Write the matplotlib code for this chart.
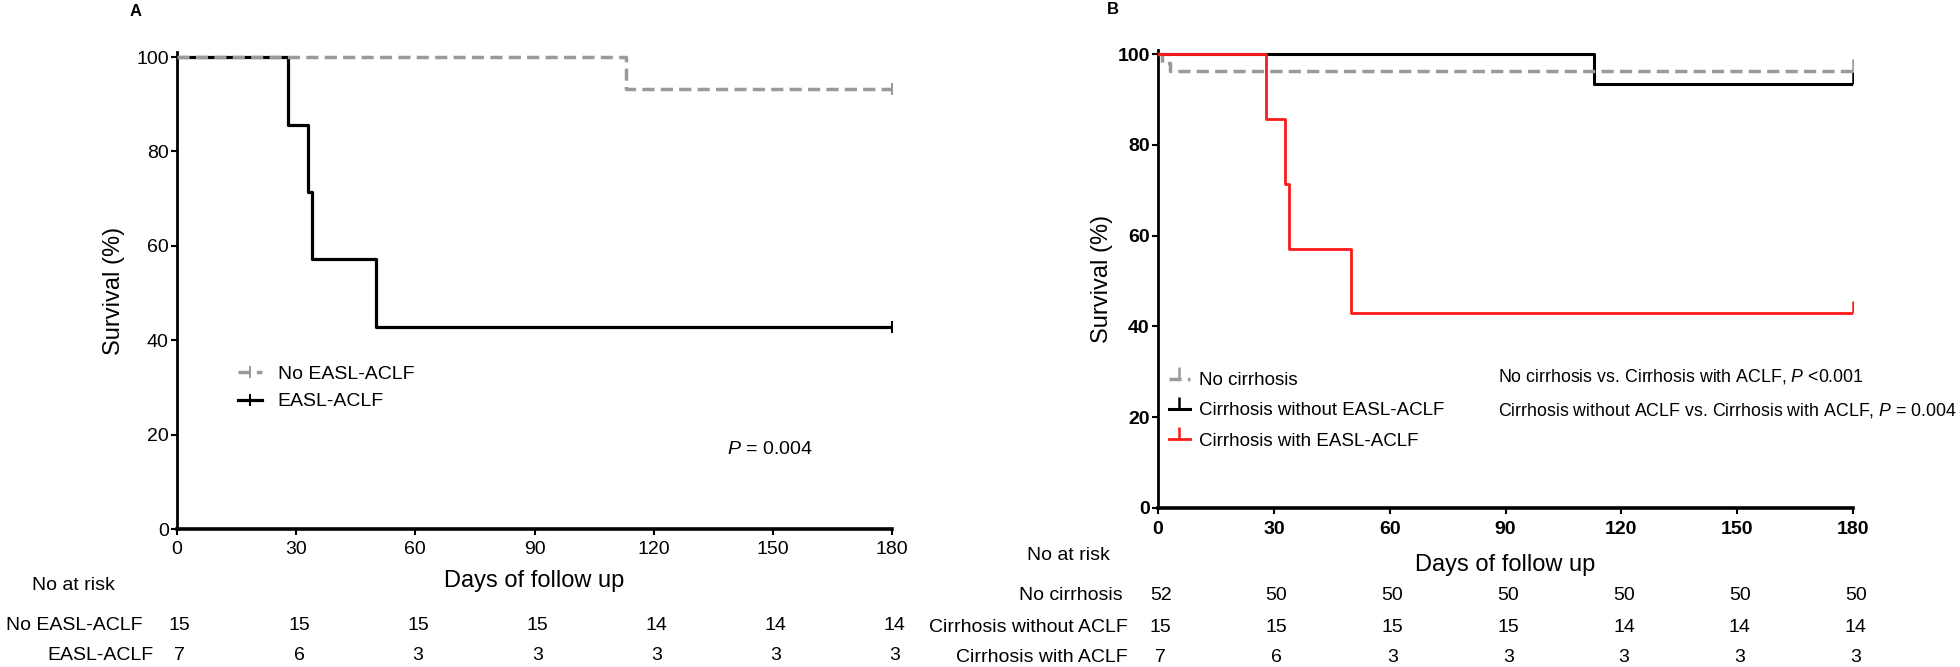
import numpy as np
import matplotlib
matplotlib.use("Agg")
import matplotlib.pyplot as plt
from matplotlib import transforms

plt.rcParams['font.family'] = ['Liberation Sans', 'DejaVu Sans']
plt.rcParams['mathtext.fontset'] = 'custom'
plt.rcParams['mathtext.rm'] = 'Liberation Sans'
plt.rcParams['mathtext.it'] = 'Liberation Sans:italic'

# survival curves (days, % survival)
days_no_aclf = [0, 113, 180]
surv_no_aclf = [100, 93.3, 93.3]
days_aclf = [0, 28, 33, 34, 50, 180]
surv_aclf = [100, 85.7, 71.4, 57.1, 42.9, 42.9]

days_no_cirr = [0, 1, 3, 180]
surv_no_cirr = [100, 98.1, 96.2, 96.2]
days_cirr_wo = [0, 113, 180]
surv_cirr_wo = [100, 93.3, 93.3]
days_cirr_with = [0, 28, 33, 34, 50, 180]
surv_cirr_with = [100, 85.7, 71.4, 57.1, 42.9, 42.9]

risk_days = [0, 30, 60, 90, 120, 150, 180]
risk_a_no = [15, 15, 15, 15, 14, 14, 14]
risk_a_aclf = [7, 6, 3, 3, 3, 3, 3]
risk_b_no_cirr = [52, 50, 50, 50, 50, 50, 50]
risk_b_wo = [15, 15, 15, 15, 14, 14, 14]
risk_b_with = [7, 6, 3, 3, 3, 3, 3]

W, H = 1960, 667
fig = plt.figure(figsize=(W / 100, H / 100), dpi=100)

GRAY = '#9a9a9a'
RED = '#ff1a1a'
FS = 14


def px(x, y):
    return x / W, 1 - y / H


def style_axes(ax, bold=False):
    ax.set_xlim(0, 180)
    ax.set_ylim(0, 101)
    ax.set_xticks(risk_days)
    ax.set_yticks([0, 20, 40, 60, 80, 100])
    for s in ['top', 'right']:
        ax.spines[s].set_visible(False)
    ax.spines['left'].set_linewidth(2)
    ax.spines['bottom'].set_linewidth(2.6)
    ax.tick_params(direction='out', length=4, width=1.5, labelsize=FS, pad=2)
    ax.tick_params(axis='x', pad=5)
    if bold:
        for lab in ax.get_xticklabels() + ax.get_yticklabels():
            lab.set_fontweight('bold')


# ---------------- panel A
axA = fig.add_axes([177 / W, (H - 529) / H, 715 / W, (529 - 52.3) / H])
axA.step(days_aclf, surv_aclf, where='post', color='black', lw=2.3,
         marker='|', markevery=[-1], ms=8, mew=1.5, label='EASL-ACLF', zorder=2)
axA.step(days_no_aclf, surv_no_aclf, where='post', color=GRAY, lw=2.5,
         ls=(0, (3.5, 1.8)), marker='|', markevery=[-1], ms=8, mew=1.5,
         label='No EASL-ACLF', zorder=3)
style_axes(axA)
axA.set_ylabel('Survival (%)', fontsize=17, labelpad=8)
axA.set_xlabel('Days of follow up', fontsize=17, labelpad=8)
h, l = axA.get_legend_handles_labels()
axA.legend(h[::-1], l[::-1], loc='center left', bbox_to_anchor=(0.085, 0.296),
           frameon=False, fontsize=FS, handlelength=1.25, handletextpad=0.8,
           labelspacing=0.5, borderpad=0, borderaxespad=0)
axA.text(*px(727, 450), '$P$ = 0.004', transform=fig.transFigure,
         fontsize=FS, va='center', ha='left')
fig.text(*px(136, 12), 'A', fontsize=12, fontweight='bold', ha='center', va='center')

tA = transforms.blended_transform_factory(axA.transData, fig.transFigure)
fig.text(*px(32, 586), 'No at risk', fontsize=FS, va='center', ha='left')
fig.text(*px(142, 626), 'No EASL-ACLF', fontsize=FS, va='center', ha='right')
fig.text(*px(153, 655), 'EASL-ACLF', fontsize=FS, va='center', ha='right')
for d, a, b in zip(risk_days, risk_a_no, risk_a_aclf):
    axA.text(d + 0.7, 1 - 626 / H, str(a), transform=tA, fontsize=FS, ha='center', va='center')
    axA.text(d + 0.7, 1 - 655 / H, str(b), transform=tA, fontsize=FS, ha='center', va='center')

# ---------------- panel B
axB = fig.add_axes([1158 / W, (H - 508) / H, 695 / W, (508 - 49.5) / H])
axB.step(days_cirr_wo, surv_cirr_wo, where='post', color='black', lw=2.2,
         marker=2, markevery=[-1], ms=9, mew=1.8,
         label='Cirrhosis without EASL-ACLF', zorder=2)
axB.step(days_no_cirr, surv_no_cirr, where='post', color=GRAY, lw=2.5,
         ls=(0, (3.5, 1.8)), marker=2, markevery=[-1], ms=9, mew=1.8,
         label='No cirrhosis', zorder=3)
axB.step(days_cirr_with, surv_cirr_with, where='post', color=RED, lw=2.0,
         marker=2, markevery=[-1], ms=9, mew=1.8,
         label='Cirrhosis with EASL-ACLF', zorder=4)
style_axes(axB, bold=True)
axB.set_ylabel('Survival (%)', fontsize=17, labelpad=3)
axB.set_xlabel('Days of follow up', fontsize=17, labelpad=12)
h, l = axB.get_legend_handles_labels()
axB.legend([h[1], h[0], h[2]], [l[1], l[0], l[2]], loc='center left',
           bbox_to_anchor=(0.016, 0.212), frameon=False, fontsize=13.5,
           handlelength=1.1, handletextpad=0.5, labelspacing=0.7,
           borderpad=0, borderaxespad=0)

# comparison notes: second line ends at the right edge, first shares its left edge
note2 = fig.text(*px(1957, 410), 'Cirrhosis without ACLF vs. Cirrhosis with ACLF, $P$ = 0.004',
                 fontsize=12.8, va='center', ha='right')
fig.canvas.draw()
left = note2.get_window_extent().x0
fig.text(left / W, 1 - 376 / H, 'No cirrhosis vs. Cirrhosis with ACLF, $P$ <0.001',
         fontsize=12.8, va='center', ha='left')
fig.text(*px(1113, 10), 'B', fontsize=12, fontweight='bold', ha='center', va='center')

tB = transforms.blended_transform_factory(axB.transData, fig.transFigure)
fig.text(*px(1027, 555), 'No at risk', fontsize=FS, va='center', ha='left')
fig.text(*px(1123, 595), 'No cirrhosis', fontsize=FS, va='center', ha='right')
fig.text(*px(1128, 628), 'Cirrhosis without ACLF', fontsize=FS, va='center', ha='right')
fig.text(*px(1128, 658), 'Cirrhosis with ACLF', fontsize=FS, va='center', ha='right')
for d, a, b, c in zip(risk_days, risk_b_no_cirr, risk_b_wo, risk_b_with):
    axB.text(d + 0.7, 1 - 595 / H, str(a), transform=tB, fontsize=FS, ha='center', va='center')
    axB.text(d + 0.7, 1 - 628 / H, str(b), transform=tB, fontsize=FS, ha='center', va='center')
    axB.text(d + 0.7, 1 - 658 / H, str(c), transform=tB, fontsize=FS, ha='center', va='center')

fig.savefig('out.png', dpi=100)
